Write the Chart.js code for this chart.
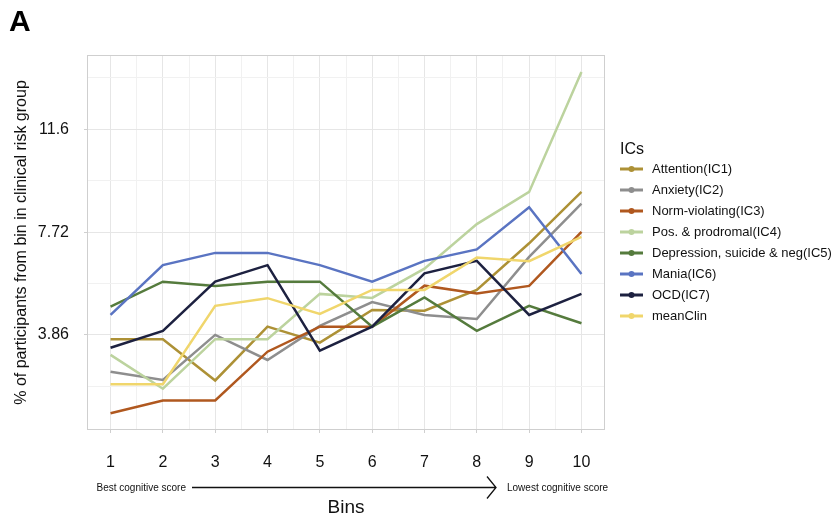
<!DOCTYPE html>
<html>
<head>
<meta charset="utf-8">
<script src="https://cdn.jsdelivr.net/npm/chart.js@4"></script>
<style>
  html, body { margin: 0; padding: 0; background: #fff; }
  #wrap { width: 837px; height: 519px; position: relative; }
</style>
</head>
<body>
<div id="wrap"><canvas id="myChart" width="837" height="519"></canvas></div>
<script>
// bins 1..10, best -> lowest cognitive score
const bins = [1, 2, 3, 4, 5, 6, 7, 8, 9, 10];

const attention     = [3.70, 3.70, 2.15, 4.17, 3.57, 4.80, 4.77, 5.55, 7.30, 9.23];
const anxiety       = [2.48, 2.17, 3.86, 2.92, 4.20, 5.09, 4.61, 4.46, 6.79, 8.79];
const normViolating = [0.92, 1.40, 1.40, 3.23, 4.17, 4.17, 5.71, 5.42, 5.70, 7.73];
const posProdromal  = [3.11, 1.84, 3.70, 3.70, 5.40, 5.25, 6.35, 8.02, 9.23, 13.73];
const depression    = [4.92, 5.86, 5.70, 5.86, 5.86, 4.17, 5.27, 4.01, 4.95, 4.30];
const mania         = [4.61, 6.48, 6.94, 6.94, 6.48, 5.86, 6.64, 7.07, 8.65, 6.15];
const ocd           = [3.38, 4.01, 5.86, 6.48, 3.27, 4.17, 6.17, 6.64, 4.61, 5.40];
const meanClin      = [2.01, 2.01, 4.95, 5.24, 4.65, 5.55, 5.55, 6.77, 6.63, 7.54];

const seriesLabels = ['Attention(IC1)', 'Anxiety(IC2)', 'Norm-violating(IC3)', 'Pos. & prodromal(IC4)',
  'Depression, suicide & neg(IC5)', 'Mania(IC6)', 'OCD(IC7)', 'meanClin'];
const seriesColors = ['#ad9136', '#8e8e8e', '#b0581f', '#bcd39e', '#557b3d', '#5a74c2', '#1d2140', '#f0d66c'];
const seriesValues = [attention, anxiety, normViolating, posProdromal, depression, mania, ocd, meanClin];

const yMajorTicks = [3.86, 7.72, 11.58];
const yTickLabels = ['3.86', '7.72', '11.6'];
const yMinorTicks = [1.93, 5.79, 9.65, 13.51];

const FONT = "'Liberation Sans', Arial, Helvetica, sans-serif";

const isMajor = (v) => yMajorTicks.some(m => Math.abs(m - v) < 1e-6);

const datasets = seriesValues.map((vals, i) => ({
  label: seriesLabels[i],
  data: bins.map((b, j) => ({ x: b, y: vals[j] })),
  borderColor: seriesColors[i],
  backgroundColor: seriesColors[i],
  borderWidth: 2.5,
  pointRadius: 0,
  pointHoverRadius: 0,
  tension: 0,
  fill: false,
  order: seriesValues.length - i
}));

const panelBorder = {
  id: 'panelBorder',
  beforeDatasetsDraw(chart) {
    const { ctx, chartArea: a } = chart;
    ctx.save();
    ctx.strokeStyle = '#cfcfcf';
    ctx.lineWidth = 1;
    ctx.strokeRect(a.left + 0.5, a.top + 0.5, a.right - a.left - 1, a.bottom - a.top - 1);
    ctx.restore();
  }
};

// ggplot-like legend at the right of the panel (built-in one is capped in width)
const sideLegend = {
  id: 'sideLegend',
  afterDraw(chart) {
    const { ctx, chartArea: a } = chart;
    const x0 = a.right + 15;
    const rowH = 21;
    const n = chart.data.datasets.length;
    const y0 = (a.top + a.bottom) / 2 - rowH * (n - 1) / 2;
    ctx.save();
    ctx.fillStyle = '#111';
    ctx.font = '16px ' + FONT;
    ctx.textAlign = 'left';
    ctx.textBaseline = 'middle';
    ctx.fillText('ICs', x0, y0 - 19);
    ctx.font = '13px ' + FONT;
    chart.data.datasets.forEach((ds, i) => {
      const y = y0 + i * rowH;
      ctx.strokeStyle = ds.borderColor;
      ctx.lineWidth = 3;
      ctx.beginPath(); ctx.moveTo(x0, y); ctx.lineTo(x0 + 23, y); ctx.stroke();
      ctx.fillStyle = ds.borderColor;
      ctx.beginPath(); ctx.arc(x0 + 11.5, y, 3, 0, Math.PI * 2); ctx.fill();
      ctx.fillStyle = '#111';
      ctx.fillText(ds.label, x0 + 32, y + 0.5);
    });
    ctx.restore();
  }
};

const extras = {
  id: 'extras',
  afterDraw(chart) {
    const { ctx } = chart;
    ctx.save();
    // panel tag
    ctx.fillStyle = '#000';
    ctx.font = 'bold 30px ' + FONT;
    ctx.textAlign = 'left';
    ctx.textBaseline = 'alphabetic';
    ctx.fillText('A', 9, 31);
    // direction arrow under the bins
    const y = 487.5;
    ctx.font = '10px ' + FONT;
    ctx.fillStyle = '#111';
    ctx.textBaseline = 'middle';
    ctx.textAlign = 'right';
    ctx.fillText('Best cognitive score', 186, y + 1);
    ctx.textAlign = 'left';
    ctx.fillText('Lowest cognitive score', 507, y + 1);
    ctx.strokeStyle = '#111';
    ctx.lineWidth = 1.3;
    ctx.beginPath();
    ctx.moveTo(192, y); ctx.lineTo(496, y);
    ctx.moveTo(487, y - 11); ctx.lineTo(496, y); ctx.lineTo(487, y + 11);
    ctx.stroke();
    ctx.restore();
  }
};

const config = {
  type: 'line',
  data: { datasets: datasets },
  options: {
    responsive: false,
    animation: false,
    layout: { padding: { top: 55, left: 4, right: 232, bottom: 0 } },
    plugins: {
      tooltip: { enabled: false },
      legend: { display: false }
    },
    scales: {
      x: {
        type: 'linear',
        min: 0.55,
        max: 10.45,
        afterBuildTicks: (s) => {
          const t = [];
          for (let v = 1; v <= 10; v += 0.5) t.push({ value: v });
          s.ticks = t;
        },
        afterFit: (s) => { s.height = 89; },
        border: { display: false },
        grid: {
          color: (c) => (c.tick && Number.isInteger(c.tick.value)) ? '#e6e6e6' : '#f1f1f1',
          tickColor: (c) => (c.tick && Number.isInteger(c.tick.value)) ? '#cfcfcf' : 'rgba(0,0,0,0)',
          tickLength: 3,
          lineWidth: 1
        },
        ticks: {
          autoSkip: false,
          maxRotation: 0,
          padding: 20,
          color: '#111',
          font: { family: FONT, size: 16 },
          callback: (v) => Number.isInteger(v) ? String(v) : ''
        },
        title: {
          display: true,
          text: 'Bins',
          color: '#111',
          font: { family: FONT, size: 19 },
          padding: { top: 0, bottom: 0 }
        }
      },
      y: {
        type: 'linear',
        min: 0.29,
        max: 14.37,
        afterBuildTicks: (s) => {
          s.ticks = yMinorTicks.concat(yMajorTicks).sort((a, b) => a - b).map(v => ({ value: v }));
        },
        afterFit: (s) => { s.width = 83; },
        border: { display: false },
        grid: {
          color: (c) => (c.tick && isMajor(c.tick.value)) ? '#e6e6e6' : '#f1f1f1',
          tickColor: (c) => (c.tick && isMajor(c.tick.value)) ? '#cfcfcf' : 'rgba(0,0,0,0)',
          tickLength: 3,
          lineWidth: 1
        },
        ticks: {
          padding: 15,
          color: '#111',
          font: { family: FONT, size: 16 },
          callback: (v) => {
            const k = yMajorTicks.findIndex(m => Math.abs(m - v) < 1e-6);
            return k >= 0 ? yTickLabels[k] : '';
          }
        },
        title: {
          display: true,
          text: '% of participants from bin in clinical risk group',
          color: '#111',
          font: { family: FONT, size: 16 },
          padding: { top: 8, bottom: 0 }
        }
      }
    }
  },
  plugins: [panelBorder, sideLegend, extras]
};

const ctx = document.getElementById('myChart');
new Chart(ctx, config);
</script>
</body>
</html>
